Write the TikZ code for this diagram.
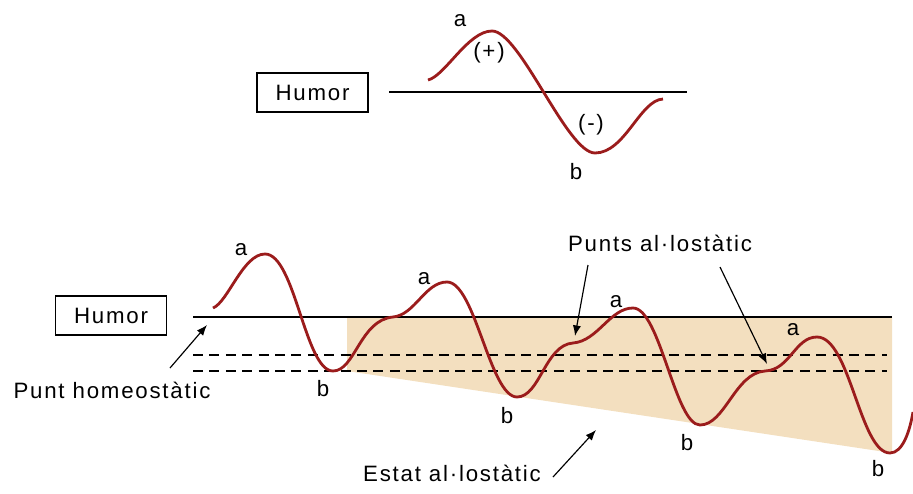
\documentclass[tikz,border=0pt]{standalone}
\usepackage{fontspec}
\setmainfont{Liberation Sans}[LetterSpace=8]
\usetikzlibrary{arrows.meta}
\definecolor{humorred}{RGB}{155,28,28}
\definecolor{allofill}{RGB}{243,223,191}
\tikzset{
  humorbox/.style={draw, line width=1pt, minimum width=3.33cm, minimum height=1.17cm, inner sep=0pt},
  wave/.style={humorred, line width=2.4pt},
  baseline/.style={line width=1.1pt},
  dashline/.style={line width=1.1pt, dash pattern=on 8.5pt off 5.5pt},
  pointer/.style={-{Latex[length=9pt,width=7pt]}, line width=1pt},
}
\begin{document}
\begin{tikzpicture}[x=0.03cm,y=-0.03cm,font=\fontsize{19}{22}\selectfont]
        \useasboundingbox (0,0) rectangle (913,493);

        \node[humorbox] (h1) at (312.5,92.5) {Humor};
        \draw[baseline] (389,92) -- (687,92);
        \draw[wave] (428,80) .. controls (445,76) and (468,31) .. (492,31)
            .. controls (520,31) and (567,153) .. (595,153)
            .. controls (625,153) and (640,100) .. (663,99);
        \node (a0) at (460,21) {a};
        \node (p0) at (489,53) {(+)};
        \node (m0) at (591,125) {(-)};
        \node (b0) at (576,172) {b};

        \fill[allofill] (347,317) -- (892,317) -- (892,453) -- (347,371) -- cycle;
        \node[humorbox] (h2) at (111,315.5) {Humor};
        \draw[baseline] (193,317) -- (892,317);
        \draw[dashline] (193,355) -- (887,355);
        \draw[dashline] (193,371) -- (887,371);
        \draw[wave] (213,308) .. controls (228,302) and (243,254) .. (265,254)
            .. controls (295,254) and (305,371) .. (333,371)
            .. controls (355,371) and (360,320) .. (393,317)
            .. controls (415,315) and (425,282) .. (447,282)
            .. controls (475,282) and (490,397) .. (517,397)
            .. controls (540,397) and (545,345) .. (573,343)
            .. controls (598,341) and (610,308) .. (633,308)
            .. controls (660,308) and (675,425) .. (700,425)
            .. controls (725,425) and (735,373) .. (765,371)
            .. controls (790,370) and (795,337) .. (817,337)
            .. controls (850,337) and (860,453) .. (890,453)
            .. controls (903,453) and (910,430) .. (913,412);
        \node (a1) at (241,250) {a};
        \node (b1) at (323,389) {b};
        \node (a2) at (424,279) {a};
        \node (b2) at (507,416) {b};
        \node (a3) at (616,302) {a};
        \node (b3) at (687,443) {b};
        \node (a4) at (793,330) {a};
        \node (b4) at (878,469) {b};

        \node (homeo) at (112,390) {Punt homeostàtic};
        \node (punts) at (660,243) {Punts al·lostàtic};
        \node (estat) at (452,473) {Estat al·lostàtic};
        \coordinate (ht) at (207,325);
        \coordinate (hs) at (170,368);
        \coordinate (ps1) at (588,265);
        \coordinate (pt1) at (575,336);
        \coordinate (ps2) at (720,267);
        \coordinate (pt2) at (767,364);
        \coordinate (es) at (553,477);
        \coordinate (et) at (596,430);
        \draw[pointer] (hs) -- (ht);
        \draw[pointer] (ps1) -- (pt1);
        \draw[pointer] (ps2) -- (pt2);
        \draw[pointer] (es) -- (et);
    \end{tikzpicture}
\end{document}
